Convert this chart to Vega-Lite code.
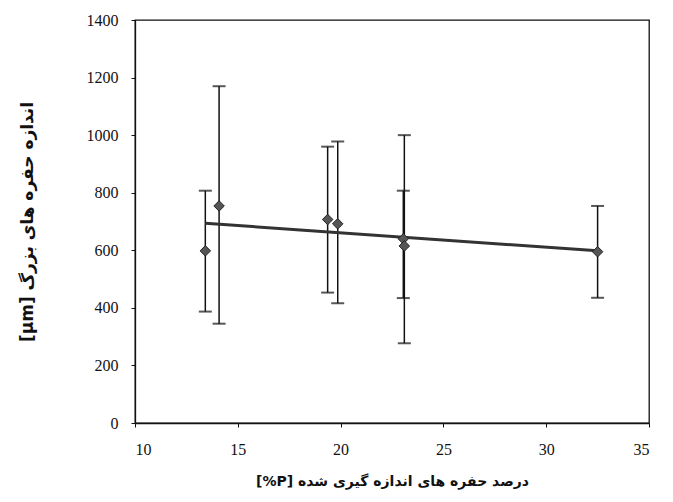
{
  "$schema": "https://vega.github.io/schema/vega-lite/v6.json",
  "width": 514,
  "height": 403,
  "autosize": {"type": "none"},
  "padding": {"left": 135, "top": 20, "right": 24, "bottom": 79},
  "background": "white",
  "config": {
    "view": {"stroke": "#111", "strokeWidth": 1.3},
    "axis": {
      "grid": false,
      "domainColor": "#111",
      "domainWidth": 1.3,
      "tickColor": "#111",
      "tickSize": 4,
      "labelFont": "Liberation Serif",
      "labelFontSize": 16,
      "labelColor": "#111",
      "titleFont": "DejaVu Sans",
      "titleFontWeight": "bold",
      "titleColor": "#111"
    }
  },
  "datasets": {
    "pts": [
      {"p": 13.42, "d": 598, "lo": 387, "hi": 807},
      {"p": 14.09, "d": 754, "lo": 345, "hi": 1170},
      {"p": 19.37, "d": 707, "lo": 453, "hi": 960},
      {"p": 19.86, "d": 692, "lo": 416, "hi": 978},
      {"p": 23.05, "d": 640, "lo": 434, "hi": 807},
      {"p": 23.1, "d": 615, "lo": 277, "hi": 1000},
      {"p": 32.5, "d": 595, "lo": 435, "hi": 754}
    ],
    "trend": [
      {"p": 13.42, "d": 694},
      {"p": 32.5, "d": 598}
    ]
  },
  "encoding": {
    "x": {
      "field": "p",
      "type": "quantitative",
      "scale": {"domain": [10, 35], "nice": false, "zero": false},
      "axis": {"values": [10, 15, 20, 25, 30, 35], "format": "d", "labelPadding": 14, "title": "[%P] درصد حفره های اندازه گیری شده", "titleFontSize": 14, "titlePadding": 17}
    }
  },
  "layer": [
    {
      "data": {"name": "pts"},
      "mark": {"type": "rule", "color": "#111", "strokeWidth": 1.5},
      "encoding": {
        "y": {"field": "lo", "type": "quantitative", "scale": {"domain": [0, 1400], "nice": false},
          "axis": {"values": [0, 200, 400, 600, 800, 1000, 1200, 1400], "format": "d", "labelPadding": 13, "title": "[μm] اندازه حفره های بزرگ", "titleFontSize": 17, "titlePadding": 50}},
        "y2": {"field": "hi"}
      }
    },
    {
      "data": {"name": "pts"},
      "mark": {"type": "tick", "orient": "horizontal", "color": "#111", "size": 13, "thickness": 2},
      "encoding": {"y": {"field": "lo", "type": "quantitative"}}
    },
    {
      "data": {"name": "pts"},
      "mark": {"type": "tick", "orient": "horizontal", "color": "#111", "size": 13, "thickness": 2},
      "encoding": {"y": {"field": "hi", "type": "quantitative"}}
    },
    {
      "data": {"name": "trend"},
      "mark": {"type": "line", "color": "#333", "strokeWidth": 3},
      "encoding": {"y": {"field": "d", "type": "quantitative"}}
    },
    {
      "data": {"name": "pts"},
      "mark": {"type": "point", "shape": "diamond", "filled": true, "color": "#555", "stroke": "#222", "strokeWidth": 1, "opacity": 1, "size": 110},
      "encoding": {"y": {"field": "d", "type": "quantitative"}}
    }
  ]
}
